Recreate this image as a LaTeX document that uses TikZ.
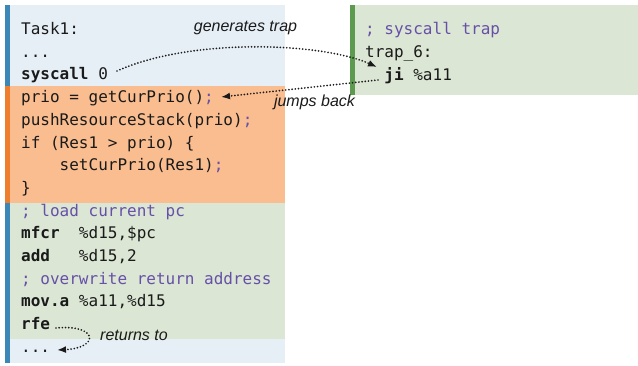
\documentclass[tikz,border=0pt]{standalone}
\usepackage{fontspec}
\setmainfont{Liberation Sans}
\newfontfamily\codefont{DejaVu Sans Mono}
\usetikzlibrary{arrows.meta}
\definecolor{bgblue}{HTML}{E6EEF6}
\definecolor{bgorange}{HTML}{F9BD90}
\definecolor{bggreen}{HTML}{DBE6D4}
\definecolor{barblue}{HTML}{3B88B8}
\definecolor{barorange}{HTML}{EE7E2E}
\definecolor{bargreen}{HTML}{5C9A50}
\definecolor{cmt}{HTML}{6650A8}
\definecolor{ink}{HTML}{1A1A1A}
\tikzset{
  code/.style={anchor=base west, inner sep=0pt, text=ink, font=\codefont\fontsize{16}{19}\selectfont},
  lbl/.style={inner sep=0pt, text=ink, font=\itshape\fontsize{16}{19}\selectfont},
  conn/.style={line width=1.9pt, line cap=round, dash pattern=on 0pt off 3.2pt, -{Latex[length=9pt,width=7pt,line cap=butt]}, ink},
}
\newcommand{\cm}[1]{\textcolor{cmt}{#1}}
\begin{document}
\begin{tikzpicture}[x=1pt,y=-1pt]
\useasboundingbox (0,0) rectangle (638,366);
% left column backgrounds
\fill[bgblue] (10,5) rectangle (285,86);
\fill[bgorange] (10,86) rectangle (285,203);
\fill[bggreen] (10,203) rectangle (285,339);
\fill[bgblue] (10,339) rectangle (285,363);
\fill[barblue] (5,5) rectangle (10,86);
\fill[barorange] (5,86) rectangle (10,203);
\fill[barblue] (5,203) rectangle (10,363);
% right column
\fill[bggreen] (355,5) rectangle (638,95);
\fill[bargreen] (350,5) rectangle (355,95);
% left code
\node[code] (l0) at (21,34.5) {Task1:};
\node[code] (l1) at (21,57.3) {...};
\node[code] (l2) at (21,80) {\textbf{syscall} 0};
\node[code] (l3) at (21,102.7) {prio = getCurPrio()\cm{;}};
\node[code] (l4) at (21,125.4) {pushResourceStack(prio)\cm{;}};
\node[code] (l5) at (21,148.1) {if (Res1 > prio) \{};
\node[code] (l6) at (21,170.8) {\ \ \ \ setCurPrio(Res1)\cm{;}};
\node[code] (l7) at (21,193.5) {\}};
\node[code] (l8) at (21,216.2) {\cm{; load current pc}};
\node[code] (l9) at (21,238.9) {\textbf{mfcr}\ \ \%d15,\$pc};
\node[code] (l10) at (21,261.6) {\textbf{add}\ \ \ \%d15,2};
\node[code] (l11) at (21,284.3) {\cm{; overwrite return address}};
\node[code] (l12) at (21,307) {\textbf{mov.a} \%a11,\%d15};
\node[code] (l13) at (21,329.7) {\textbf{rfe}};
\node[code] (l14) at (21,352.4) {...};
% right code
\node[code] (r0) at (365,35) {\cm{; syscall trap}};
\node[code] (r1) at (365,57.7) {trap\_6:};
\node[code] (r2) at (365,80.4) {\ \ \textbf{ji} \%a11};
% labels
\node[lbl, anchor=base] (g) at (245.5,32) {generates trap};
\node[lbl, anchor=base] (j) at (314.5,107) {jumps back};
\node[lbl, anchor=base west] (rt) at (100,341) {returns to};
% connector ends
\coordinate (gs) at (117,71);
\coordinate (ge) at (377,67);
\coordinate (js) at (378,80);
\coordinate (je) at (221,97);
\coordinate (rs) at (56,328);
\coordinate (re) at (57,350);
\draw[conn] (gs) .. controls (190,38) and (320,42) .. (ge);
\draw[conn] (js) -- (je);
\draw[conn] (rs) .. controls (98,324) and (100,348) .. (re);
\end{tikzpicture}
\end{document}
